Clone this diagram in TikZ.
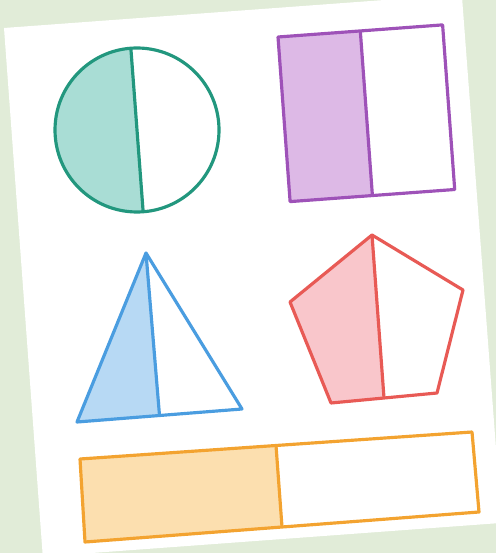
\documentclass[tikz,border=0pt]{standalone}
\usetikzlibrary{calc}

\definecolor{bggreen}{RGB}{225,236,216}
\definecolor{tealline}{RGB}{34,151,126}
\definecolor{tealfill}{RGB}{169,221,213}
\definecolor{purpleline}{RGB}{158,82,184}
\definecolor{purplefill}{RGB}{221,185,230}
\definecolor{blueline}{RGB}{74,157,224}
\definecolor{bluefill}{RGB}{183,217,244}
\definecolor{redline}{RGB}{232,90,85}
\definecolor{redfill}{RGB}{249,198,203}
\definecolor{orangeline}{RGB}{243,163,48}
\definecolor{orangefill}{RGB}{252,223,175}

\begin{document}
\begin{tikzpicture}[
    x=0.02cm, y=-0.02cm,
    outline/.style={draw=#1, line width=1.8pt, line join=round}
]

\useasboundingbox (0,0) rectangle (496,553);
\clip (0,0) rectangle (496,553);

% Background and card
\fill[bggreen] (0,0) rectangle (496,553);
\fill[white] (4,28) -- (461.8,-5.7) -- (501.6,522.9) -- (42.8,556.6) -- cycle;

% Circle
\coordinate (circ) at (137,130);
\coordinate (circbot) at ($(circ)+(85.7:82)$);
\coordinate (circtop) at ($(circ)+(265.7:82)$);
\fill[tealfill] (circbot) arc[start angle=85.7, end angle=265.7, radius=82] -- cycle;
\draw[outline=tealline] (circ) circle[radius=82];
\draw[outline=tealline] (circtop) -- (circbot);

% Square
\coordinate (sqa) at (278,37);
\coordinate (sqb) at (442.6,24.9);
\coordinate (sqc) at (454.7,189.5);
\coordinate (sqd) at (290.1,201.6);
\coordinate (sqtop) at ($(sqa)!0.5!(sqb)$);
\coordinate (sqbot) at ($(sqd)!0.5!(sqc)$);
\fill[purplefill] (sqa) -- (sqtop) -- (sqbot) -- (sqd) -- cycle;
\draw[outline=purpleline] (sqa) -- (sqb) -- (sqc) -- (sqd) -- cycle;
\draw[outline=purpleline] (sqtop) -- (sqbot);

% Triangle
\coordinate (tria) at (146,253);
\coordinate (trib) at (242,409);
\coordinate (tric) at (77,422);
\coordinate (tribot) at ($(tric)!0.5!(trib)$);
\fill[bluefill] (tria) -- (tribot) -- (tric) -- cycle;
\draw[outline=blueline] (tria) -- (trib) -- (tric) -- cycle;
\draw[outline=blueline] (tria) -- (tribot);

% Pentagon
\coordinate (pena) at (372,235);
\coordinate (penb) at (463,290);
\coordinate (penc) at (437,393);
\coordinate (pend) at (331,403);
\coordinate (pene) at (290,302);
\coordinate (penbot) at ($(pend)!0.5!(penc)$);
\fill[redfill] (pena) -- (penbot) -- (pend) -- (pene) -- cycle;
\draw[outline=redline] (pena) -- (penb) -- (penc) -- (pend) -- (pene) -- cycle;
\draw[outline=redline] (pena) -- (penbot);

% Bar
\coordinate (bara) at (80,459);
\coordinate (barb) at (472,432);
\coordinate (barc) at (479,512);
\coordinate (bard) at (85,542);
\coordinate (bartop) at ($(bara)!0.5!(barb)$);
\coordinate (barbot) at ($(bard)!0.5!(barc)$);
\fill[orangefill] (bara) -- (bartop) -- (barbot) -- (bard) -- cycle;
\draw[outline=orangeline] (bara) -- (barb) -- (barc) -- (bard) -- cycle;
\draw[outline=orangeline] (bartop) -- (barbot);

\end{tikzpicture}
\end{document}
